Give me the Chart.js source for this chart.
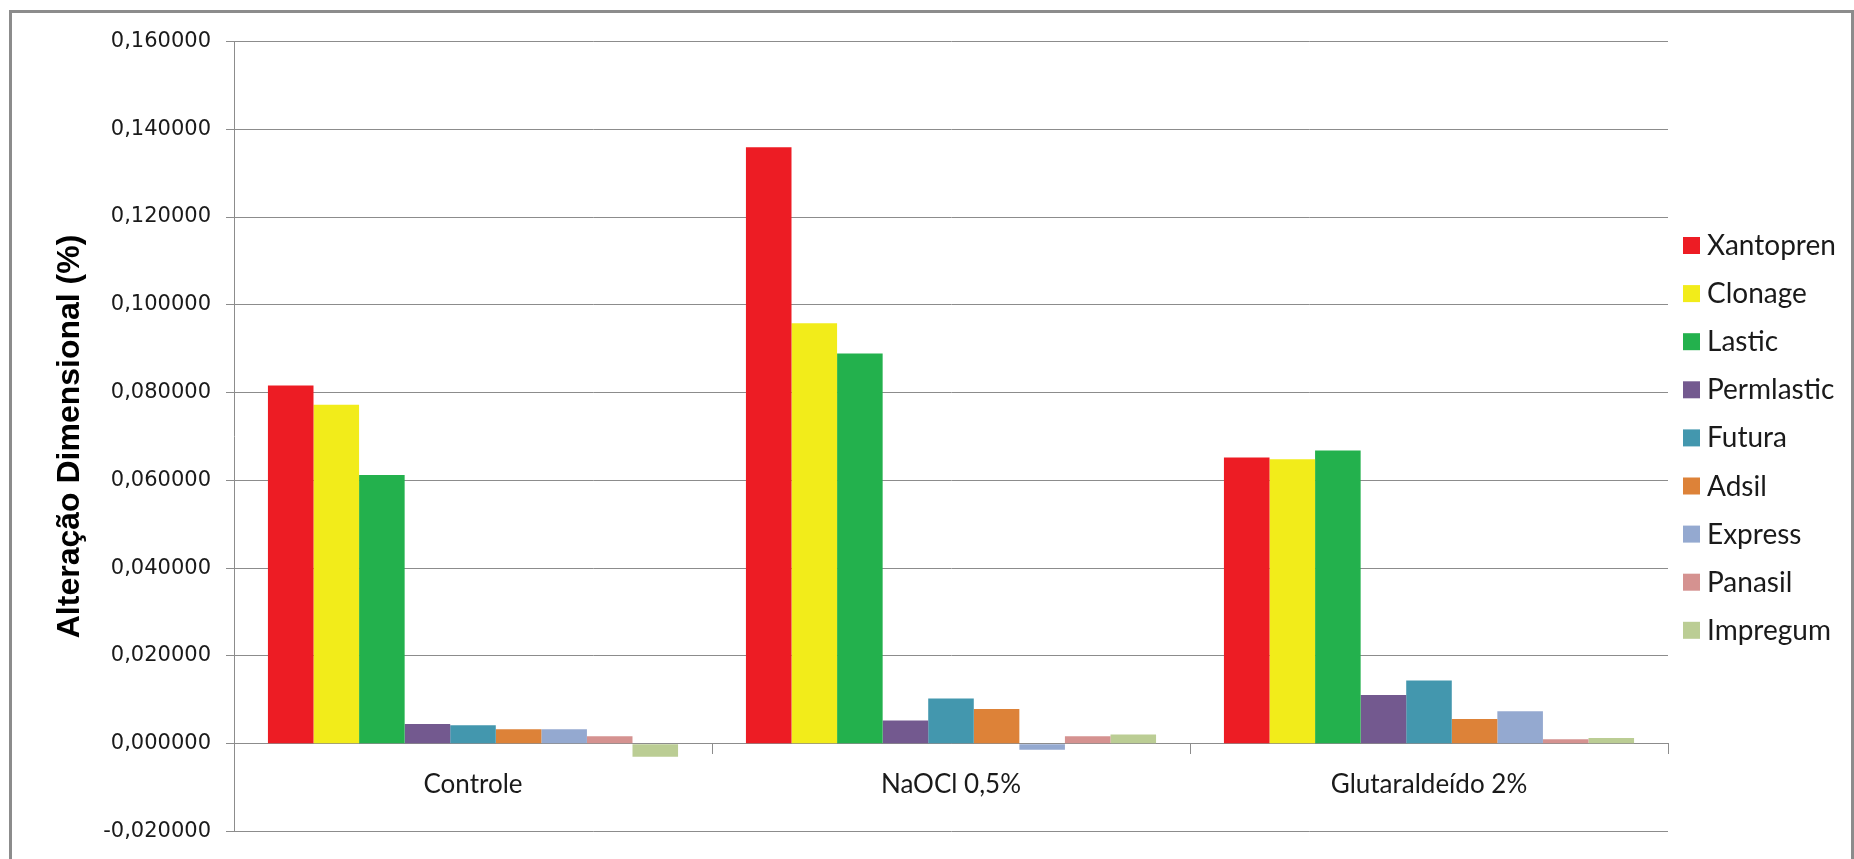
<!DOCTYPE html>
<html>
<head>
<meta charset="utf-8">
<script src="https://cdn.jsdelivr.net/npm/chart.js@4.4.1/dist/chart.umd.min.js"></script>
<style>
    html, body { margin: 0; padding: 0; background: #fff; overflow: hidden; }
    #wrap { position: relative; width: 1854px; height: 859px; }
    #frame {
        position: absolute; left: 9px; top: 10px; width: 1839px; height: 900px;
        border: 3px solid #8c8c8c; border-bottom: none; pointer-events: none;
    }
</style>
</head>
<body>
<div id="wrap">
    <canvas id="dimChart" width="1854" height="859"></canvas>
    <div id="frame"></div>
</div>
<script>
// Data
const categories = ['Controle', 'NaOCl 0,5%', 'Glutaraldeído 2%'];
const xantopren  = [0.0816, 0.1359, 0.0652];
const clonage    = [0.0772, 0.0958, 0.0648];
const lastic     = [0.0612, 0.0889, 0.0668];
const permlastic = [0.0045, 0.0053, 0.0111];
const futura     = [0.0042, 0.0103, 0.0144];
const adsil      = [0.0033, 0.0079, 0.0056];
const express    = [0.0033, -0.0014, 0.0074];
const panasil    = [0.0017, 0.0017, 0.0010];
const impregum   = [-0.0030, 0.0021, 0.0013];
const yMin = -0.02, yMax = 0.16, yStep = 0.02;

const seriesNames  = ['Xantopren', 'Clonage', 'Lastic', 'Permlastic', 'Futura', 'Adsil', 'Express', 'Panasil', 'Impregum'];
const seriesValues = [xantopren, clonage, lastic, permlastic, futura, adsil, express, panasil, impregum];
const seriesColors = ['#ed1c24', '#f2ec1a', '#23b14d', '#73598f', '#4397ae', '#dd8238', '#94a9d0', '#d59290', '#bbcd94'];

const gridColor = '#8c8c8c';

// Legend drawn on the right, one row per dataset
const sideLegend = {
    id: 'sideLegend',
    afterDraw(chart) {
        const ctx = chart.ctx;
        ctx.save();
        ctx.font = '28px Lato';
        ctx.textBaseline = 'middle';
        ctx.textAlign = 'left';
        chart.data.datasets.forEach((ds, i) => {
            const cy = 245 + i * 48.1;
            ctx.fillStyle = ds.backgroundColor;
            ctx.fillRect(1683, cy - 8, 17, 17);
            ctx.fillStyle = '#1a1a1a';
            ctx.fillText(ds.label, 1707, cy + 1);
        });
        ctx.restore();
    }
};

const ctx = document.getElementById('dimChart').getContext('2d');
const dimChart = new Chart(ctx, {
    type: 'bar',
    data: {
        labels: categories,
        datasets: seriesNames.map((name, i) => ({
            label: name,
            data: seriesValues[i],
            backgroundColor: seriesColors[i],
            borderWidth: 0,
            categoryPercentage: 0.858,
            barPercentage: 1.0
        }))
    },
    options: {
        responsive: false,
        animation: false,
        layout: {
            padding: { left: 0, right: 186, top: 41.5, bottom: 25 }
        },
        plugins: {
            legend: { display: false },
            tooltip: { enabled: false }
        },
        scales: {
            x: {
                position: { y: 0 },
                grid: {
                    display: true,
                    drawOnChartArea: false,
                    drawTicks: true,
                    tickLength: 10,
                    color: gridColor
                },
                border: { display: true, color: gridColor },
                ticks: {
                    color: '#1a1a1a',
                    padding: 15,
                    font: { family: 'Lato', size: 26 }
                }
            },
            y: {
                min: yMin,
                max: yMax,
                afterFit: function(scale) {
                    scale.width = 234;
                },
                ticks: {
                    stepSize: yStep,
                    color: '#1a1a1a',
                    padding: 15,
                    font: { family: 'DejaVu Sans', size: 21 },
                    callback: function(v) {
                        if (Math.abs(v) < 1e-9) v = 0;
                        return v.toFixed(6).replace('.', ',');
                    }
                },
                grid: {
                    color: gridColor,
                    tickLength: 8
                },
                border: { display: true, color: gridColor },
                title: {
                    display: true,
                    text: 'Alteração Dimensional (%)',
                    color: '#000',
                    padding: { top: 51, bottom: 0 },
                    font: { family: 'Liberation Sans', size: 32, weight: 'bold' }
                }
            }
        }
    },
    plugins: [sideLegend]
});
</script>
</body>
</html>
